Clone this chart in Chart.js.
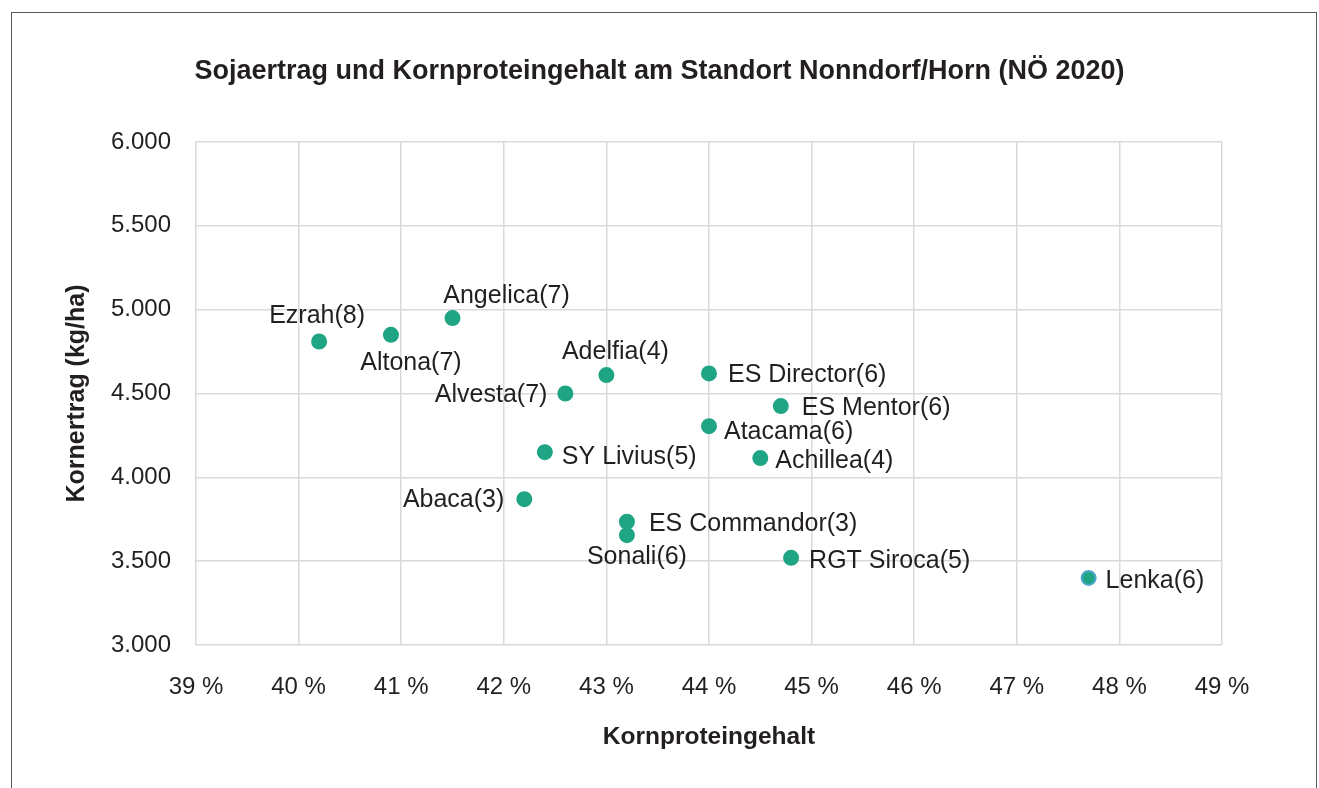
<!DOCTYPE html>
<html>
<head>
<meta charset="utf-8">
<script src="https://cdn.jsdelivr.net/npm/chart.js@4/dist/chart.umd.min.js"></script>
<style>
  html, body { margin: 0; padding: 0; background: #fff; }
  #wrap { position: relative; width: 1319px; height: 788px; overflow: hidden; }
  #frame { position: absolute; left: 11px; top: 12px; width: 1304px; height: 800px; border: 1px solid #595959; pointer-events: none; }
  canvas { position: absolute; left: 0; top: 0; }
</style>
</head>
<body>
<div id="wrap">
  <canvas id="chart" width="1319" height="788"></canvas>
  <div id="frame"></div>
</div>
<script>
// Sorten (Reifegruppe in Klammern)
const sorten = ["Ezrah(8)", "Altona(7)", "Angelica(7)", "Adelfia(4)", "Alvesta(7)",
  "ES Director(6)", "ES Mentor(6)", "Atacama(6)", "Achillea(4)", "SY Livius(5)",
  "Abaca(3)", "ES Commandor(3)", "Sonali(6)", "RGT Siroca(5)", "Lenka(6)"];
// Kornproteingehalt in %
const protein = [40.2, 40.9, 41.5, 43.0, 42.6, 44.0, 44.7, 44.0, 44.5, 42.4, 42.2, 43.2, 43.2, 44.8, 47.7];
// Kornertrag in kg/ha
const ertrag = [4810, 4850, 4950, 4610, 4500, 4620, 4425, 4305, 4115, 4150, 3870, 3735, 3655, 3520, 3400];

const xTicks = [39, 40, 41, 42, 43, 44, 45, 46, 47, 48, 49];
const yTicks = [3000, 3500, 4000, 4500, 5000, 5500, 6000];

// label placement relative to the point: [dx, dy, align]
const labelPlace = {
  "Ezrah(8)": [-2, -25, "center"],
  "Altona(7)": [20, 28, "center"],
  "Angelica(7)": [54, -22, "center"],
  "Adelfia(4)": [9, -23, "center"],
  "Alvesta(7)": [-18, 2, "right"],
  "ES Director(6)": [19, 2, "left"],
  "ES Mentor(6)": [21, 2, "left"],
  "Atacama(6)": [15, 6, "left"],
  "Achillea(4)": [15, 3, "left"],
  "SY Livius(5)": [17, 5, "left"],
  "Abaca(3)": [-20, 1, "right"],
  "ES Commandor(3)": [22, 2, "left"],
  "Sonali(6)": [10, 22, "center"],
  "RGT Siroca(5)": [18, 3, "left"],
  "Lenka(6)": [17, 3, "left"]
};

const FONT = "'Liberation Sans', Arial, sans-serif";
const teal = "#1fa584";

const pointLabels = {
  id: "pointLabels",
  afterDatasetsDraw(chart) {
    const ctx = chart.ctx;
    const meta = chart.getDatasetMeta(0);
    ctx.save();
    ctx.font = "25px " + FONT;
    ctx.fillStyle = "#231f20";
    ctx.textBaseline = "middle";
    meta.data.forEach((pt, i) => {
      const p = labelPlace[sorten[i]] || [15, 0, "left"];
      ctx.textAlign = p[2];
      ctx.fillText(sorten[i], pt.x + p[0], pt.y + p[1]);
    });
    ctx.restore();
  }
};

const points = protein.map((v, i) => ({ x: v, y: ertrag[i] }));
const fills = sorten.map(() => teal);
const borders = sorten.map(s => s === "Lenka(6)" ? "#4ea7cc" : teal);

new Chart(document.getElementById("chart"), {
  type: "scatter",
  data: {
    datasets: [{
      data: points,
      backgroundColor: fills,
      borderColor: borders,
      borderWidth: 2,
      pointRadius: 7,
      pointHoverRadius: 7
    }]
  },
  options: {
    responsive: false,
    animation: false,
    events: [],
    layout: { padding: 0 },
    plugins: {
      legend: { display: false },
      tooltip: { enabled: false },
      title: {
        display: true,
        text: "Sojaertrag und Kornproteingehalt am Standort Nonndorf/Horn (NÖ 2020)",
        color: "#231f20",
        font: { family: FONT, size: 27, weight: "bold" },
        padding: { top: 55.8, bottom: 53.8 }
      }
    },
    scales: {
      x: {
        type: "linear",
        min: 39, max: 49,
        afterBuildTicks: s => { s.ticks = xTicks.map(v => ({ value: v })); },
        afterFit: s => { s.height = 143; },
        grid: { color: "#d9d9d9", lineWidth: 1.5, drawTicks: false },
        border: { display: false },
        ticks: {
          padding: 27.6,
          color: "#231f20",
          font: { family: FONT, size: 24 },
          callback: v => v + " %"
        },
        title: {
          display: true,
          text: "Kornproteingehalt",
          color: "#231f20",
          font: { family: FONT, size: 24.5, weight: "bold" },
          padding: { top: 0, bottom: 36.3 }
        }
      },
      y: {
        type: "linear",
        min: 3000, max: 6000,
        afterBuildTicks: s => { s.ticks = yTicks.map(v => ({ value: v })); },
        afterFit: s => { s.width = 196; },
        grid: { color: "#d9d9d9", lineWidth: 1.5, drawTicks: false },
        border: { display: false },
        ticks: {
          padding: 25,
          color: "#231f20",
          font: { family: FONT, size: 24 },
          callback: v => String(v).replace(/\B(?=(\d{3})+(?!\d))/g, ".")
        },
        title: {
          display: true,
          text: "Kornertrag (kg/ha)",
          color: "#231f20",
          font: { family: FONT, size: 25, weight: "bold" },
          padding: { top: 62.5, bottom: 0 }
        }
      },
      // empty right-hand spacer so the title centres over the whole frame
      yRight: {
        position: "right",
        display: true,
        grid: { display: false },
        border: { display: false },
        ticks: { display: false },
        afterFit: s => { s.width = 97; }
      }
    }
  },
  plugins: [pointLabels]
});
</script>
</body>
</html>
